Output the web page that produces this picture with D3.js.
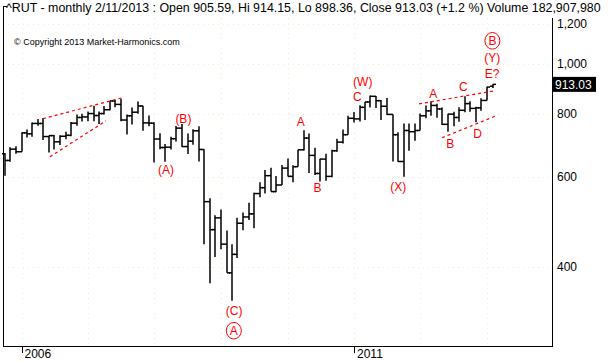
<!DOCTYPE html>
<html>
<head>
<meta charset="utf-8">
<script src="https://cdn.jsdelivr.net/npm/d3@7"></script>
<style>
  body { margin: 0; background: #fff; }
  svg { display: block; font-family: Arial, "Liberation Sans", sans-serif; }
</style>
</head>
<body>
<div id="chart"></div>
<script>
// monthly bars, Oct 2005 .. Feb 2013
const months = [
  "2005-10","2005-11","2005-12",
  "2006-01","2006-02","2006-03","2006-04","2006-05","2006-06","2006-07","2006-08","2006-09","2006-10","2006-11","2006-12",
  "2007-01","2007-02","2007-03","2007-04","2007-05","2007-06","2007-07","2007-08","2007-09","2007-10","2007-11","2007-12",
  "2008-01","2008-02","2008-03","2008-04","2008-05","2008-06","2008-07","2008-08","2008-09","2008-10","2008-11","2008-12",
  "2009-01","2009-02","2009-03","2009-04","2009-05","2009-06","2009-07","2009-08","2009-09","2009-10","2009-11","2009-12",
  "2010-01","2010-02","2010-03","2010-04","2010-05","2010-06","2010-07","2010-08","2010-09","2010-10","2010-11","2010-12",
  "2011-01","2011-02","2011-03","2011-04","2011-05","2011-06","2011-07","2011-08","2011-09","2011-10","2011-11","2011-12",
  "2012-01","2012-02","2012-03","2012-04","2012-05","2012-06","2012-07","2012-08","2012-09","2012-10","2012-11","2012-12",
  "2013-01","2013-02"
];
const openVals = [
  667,647,681,
  673,733,730,765,765,721,724,704,722,725,766,786,
  788,800,793,800,814,847,834,777,792,805,828,767,
  766,713,686,687,714,749,689,706,740,680,537,473,
  499,443,389,423,487,501,508,557,572,604,562,579,
  625,602,629,679,716,662,610,651,602,676,703,727,
  783,781,823,843,865,848,827,797,727,644,741,737,
  741,792,810,830,817,762,798,786,812,837,819,821,
  849,905.59
];
const highVals = [
  669,687,690,
  735,744,768,781,784,724,726,725,737,770,797,799,
  808,829,808,828,848,852,856,797,822,845,829,793,
  769,732,697,720,756,763,731,745,755,681,545,505,
  518,471,443,499,511,534,559,586,620,626,603,634,
  653,633,679,742,731,685,652,667,679,714,744,792,
  806,831,843,868,866,851,858,797,735,765,765,765,
  800,830,846,836,822,799,807,823,865,846,825,857,
  903,914.15
];
const lowVals = [
  604,643,667,
  673,718,720,757,710,671,680,694,712,722,757,772,
  773,773,763,797,812,823,773,728,761,799,740,755,
  641,681,643,680,705,688,666,695,644,443,371,418,
  433,389,343,416,472,494,476,548,557,562,560,579,
  602,586,629,677,611,606,588,590,600,673,699,727,
  768,772,777,822,820,777,795,644,643,601,676,707,
  741,783,792,785,760,737,755,771,805,807,769,810,
  849,898.36
];
const closeVals = [
  647,681,673,
  733,730,765,765,721,724,704,722,725,766,786,788,
  800,793,800,814,847,834,777,792,805,828,767,766,
  713,686,687,714,749,689,706,740,680,537,473,499,
  443,389,423,487,501,508,557,572,604,562,579,625,
  602,629,679,716,662,610,651,602,676,703,727,783,
  781,823,843,865,848,827,797,727,644,741,737,741,
  792,810,830,817,762,798,786,812,837,819,821,849,
  902,913.03
];

const yTicks = [400, 600, 800, 1000, 1200];
const yearLabels = ["2006", "2011"];
const gridYears = ["2006","2007","2008","2009","2010","2011","2012","2013"];
const lastClose = 913.03;

// wave count annotations (date, price)
const waveText = ["(A)", "(B)", "(C)", "A", "B", "C", "(W)", "(X)", "A", "B", "C", "D", "E?", "(Y)"];
const waveDates = ["2008-03-04","2008-06-08","2009-03-14","2010-03-14","2010-06-15","2011-01-19","2011-02-18",
                   "2011-09-01","2012-03-11","2012-06-13","2012-08-23","2012-11-10","2013-01-29","2013-01-29"];
const waveValues = [620, 780, 328, 770, 571, 865, 924, 574, 874, 698, 902, 729, 956, 1030];

const circledText = ["A", "B"];
const circledDates = ["2009-03-12", "2013-01-30"];
const circledValues = [299.4, 1112];

// dashed channel lines: [startDate, startValue, endDate, endValue]
const channelLines = [
  ["2006-04-29", 781.6, "2007-07-11", 860],
  ["2006-06-06", 658, "2007-04-10", 774],
  ["2011-12-24", 836, "2013-02-13", 887],
  ["2012-04-28", 717, "2013-02-19", 792]
];

const W = 613, H = 362;
const plot = { left: 3, right: 552, top: 18, bottom: 346 };

const parseMonth = d3.timeParse("%Y-%m");
const parseDay = d3.timeParse("%Y-%m-%d");
const parseYear = d3.timeParse("%Y");

const bars = months.map((m, i) => ({
  date: parseMonth(m), open: openVals[i], high: highVals[i], low: lowVals[i], close: closeVals[i]
}));

const x = d3.scaleTime()
  .domain([parseYear("2006"), parseYear("2011")])
  .range([21.5, 354]);
const y = d3.scaleLog()
  .domain([400, 1200])
  .range([266.7, 24]);

const svg = d3.select("#chart").append("svg")
  .attr("width", W)
  .attr("height", H);

// faint dotted grid
svg.append("g").selectAll("line")
  .data(yTicks)
  .join("line")
  .attr("x1", plot.left).attr("x2", plot.right)
  .attr("y1", d => Math.round(y(d)) + 0.5).attr("y2", d => Math.round(y(d)) + 0.5)
  .attr("stroke", "#efeec8").attr("stroke-dasharray", "1,4");
svg.append("g").selectAll("line")
  .data(gridYears)
  .join("line")
  .attr("x1", d => Math.round(x(parseYear(d))) + 0.5).attr("x2", d => Math.round(x(parseYear(d))) + 0.5)
  .attr("y1", plot.top).attr("y2", plot.bottom)
  .attr("stroke", "#efeec8").attr("stroke-dasharray", "1,4");

// frame
svg.append("path")
  .attr("d", `M7,6.5H3.5V${plot.bottom + 0.5}H${plot.right + 0.5}V${plot.top}`)
  .attr("fill", "none").attr("stroke", "#000").attr("stroke-width", 1)
  .attr("shape-rendering", "crispEdges");

// title
svg.append("text")
  .attr("x", 6).attr("y", 12)
  .attr("font-size", 12.4).attr("fill", "#000")
  .text("^RUT - monthly 2/11/2013 : Open 905.59, Hi 914.15, Lo 898.36, Close 913.03 (+1.2 %) Volume 182,907,980");

svg.append("text")
  .attr("x", 14).attr("y", 45)
  .attr("font-size", 9).attr("fill", "#000")
  .text("\u00A9 Copyright 2013 Market-Harmonics.com");

// right axis
const yAxis = svg.append("g");
yAxis.selectAll("text")
  .data(yTicks)
  .join("text")
  .attr("x", 557).attr("y", d => y(d)).attr("dy", "0.35em")
  .attr("font-size", 12).attr("fill", "#000")
  .text(d => d3.format(",")(d));

// bottom axis
const xAxis = svg.append("g");
xAxis.selectAll("line")
  .data(yearLabels)
  .join("line")
  .attr("x1", d => Math.round(x(parseYear(d))) + 0.5).attr("x2", d => Math.round(x(parseYear(d))) + 0.5)
  .attr("y1", plot.bottom).attr("y2", plot.bottom + 7)
  .attr("stroke", "#000").attr("shape-rendering", "crispEdges");
xAxis.selectAll("text")
  .data(yearLabels)
  .join("text")
  .attr("x", d => x(parseYear(d)) + 3).attr("y", 358)
  .attr("font-size", 12).attr("fill", "#000")
  .text(d => d);

// OHLC bars
const barG = svg.append("g").attr("stroke", "#000").attr("stroke-width", 1.5);
const bar = barG.selectAll("g")
  .data(bars)
  .join("g")
  .attr("transform", d => `translate(${Math.round(x(d.date))},0)`);
bar.append("line")
  .attr("x1", 0).attr("x2", 0)
  .attr("y1", d => y(d.high)).attr("y2", d => y(d.low));
bar.append("line")
  .attr("x1", -3).attr("x2", 0)
  .attr("y1", d => y(d.open)).attr("y2", d => y(d.open));
bar.append("line")
  .attr("x1", 0).attr("x2", 3)
  .attr("y1", d => y(d.close)).attr("y2", d => y(d.close));

// channel lines
svg.append("g").selectAll("line")
  .data(channelLines)
  .join("line")
  .attr("x1", d => x(parseDay(d[0]))).attr("y1", d => y(d[1]))
  .attr("x2", d => x(parseDay(d[2]))).attr("y2", d => y(d[3]))
  .attr("stroke", "#ff0000").attr("stroke-width", 1.2).attr("stroke-dasharray", "3,3");

// wave labels
svg.append("g").selectAll("text")
  .data(waveText)
  .join("text")
  .attr("x", (d, i) => x(parseDay(waveDates[i])))
  .attr("y", (d, i) => y(waveValues[i]))
  .attr("dy", "0.35em")
  .attr("text-anchor", "middle")
  .attr("font-size", 12).attr("fill", "#ff0000")
  .text(d => d);

const circ = svg.append("g").selectAll("g")
  .data(circledText)
  .join("g")
  .attr("transform", (d, i) => `translate(${x(parseDay(circledDates[i]))},${y(circledValues[i])})`);
circ.append("ellipse")
  .attr("rx", 7.5).attr("ry", 8.3)
  .attr("fill", "none").attr("stroke", "#ff0000").attr("stroke-width", 1);
circ.append("text")
  .attr("dy", "0.35em").attr("text-anchor", "middle")
  .attr("font-size", 12).attr("fill", "#ff0000")
  .text(d => d);

// last close marker
const lastG = svg.append("g");
lastG.append("rect")
  .attr("x", plot.right).attr("y", y(lastClose) - 7.5)
  .attr("width", 44).attr("height", 15)
  .attr("fill", "#000");
lastG.append("text")
  .attr("x", plot.right + 3).attr("y", y(lastClose)).attr("dy", "0.35em")
  .attr("font-size", 12).attr("fill", "#fff")
  .text(d3.format(".2f")(lastClose));
</script>
</body>
</html>
